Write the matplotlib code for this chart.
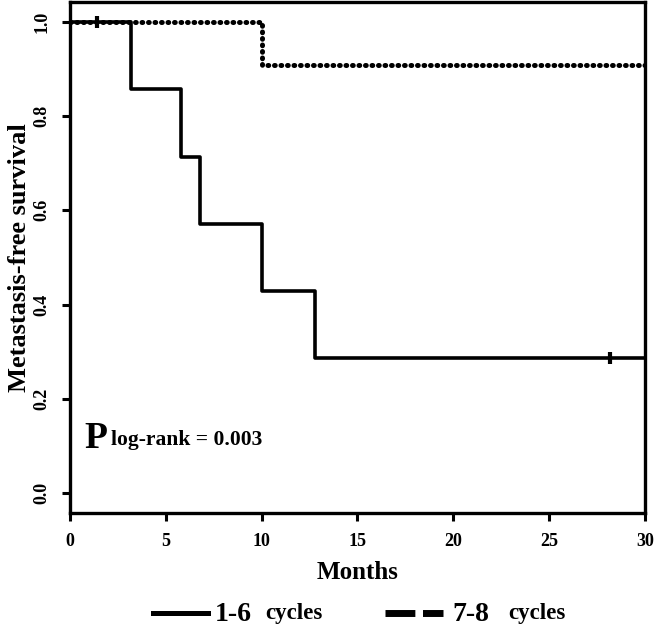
import matplotlib.pyplot as plt
from matplotlib.lines import Line2D

# Kaplan-Meier steps
t_short = [0, 3.2, 5.8, 6.8, 10.0, 12.8, 30]
s_short = [1.0, 0.857, 0.714, 0.571, 0.429, 0.286, 0.286]
cens_short_t = [1.4, 28.2]
cens_short_s = [1.0, 0.286]

t_long = [0, 10.0, 30]
s_long = [1.0, 0.909, 0.909]

xticks = [0, 5, 10, 15, 20, 25, 30]
yticks = [0.0, 0.2, 0.4, 0.6, 0.8, 1.0]

plt.rcParams['font.family'] = ['Liberation Serif', 'DejaVu Serif']
plt.rcParams['font.weight'] = 'bold'

fig = plt.figure(figsize=(6.57, 6.32), dpi=100)
ax = fig.add_axes([0.1065, 0.188, 0.875, 0.809])

ax.step(t_long, s_long, where='post', color='black', lw=3.6,
        linestyle=(0, (0.15, 1.15)), dash_capstyle='round')
ax.step(t_short, s_short, where='post', color='black', lw=2.6)
ax.plot(cens_short_t, cens_short_s, linestyle='none', marker='|',
        color='black', ms=8, mew=3)

ax.set_xlim(0, 30)
ax.set_ylim(-0.042, 1.042)
ax.set_xticks(xticks)
ax.set_yticks(yticks)
ax.set_xticklabels([str(x) for x in xticks], fontsize=13, fontweight='bold')
ax.set_yticklabels(['%.1f' % y for y in yticks], fontsize=13,
                   fontweight='bold', rotation=90, va='center')
ax.tick_params(direction='out', length=6, width=2.2)
ax.tick_params(axis='x', pad=8)
ax.tick_params(axis='y', pad=8)
for sp in ax.spines.values():
    sp.set_linewidth(2.4)

ax.set_xlabel('Months', fontsize=18, fontweight='bold', labelpad=8)
ax.set_ylabel('Metastasis-free survival', fontsize=19, fontweight='bold',
              labelpad=2)

ax.text(0.75, 0.097, 'P', fontsize=27, fontweight='bold', va='baseline')
ax.text(2.15, 0.103, 'log-rank = 0.003', fontsize=15.5, fontweight='bold',
        va='baseline')

# legend row below the axes, drawn by hand for the mixed font sizes
fig.add_artist(Line2D([0.233, 0.317], [0.030, 0.030], color='black',
                      lw=3.6, transform=fig.transFigure))
fig.add_artist(Line2D([0.586, 0.674], [0.030, 0.030], color='black',
                      lw=5, linestyle=(0, (4.3, 1.1)),
                      solid_capstyle='butt', dash_capstyle='butt',
                      transform=fig.transFigure))
fig.text(0.327, 0.017, '1-6', fontsize=20, fontweight='bold', va='baseline')
fig.text(0.403, 0.020, 'cycles', fontsize=16.5, fontweight='bold', va='baseline')
fig.text(0.689, 0.017, '7-8', fontsize=20, fontweight='bold', va='baseline')
fig.text(0.773, 0.020, 'cycles', fontsize=16.5, fontweight='bold', va='baseline')

fig.savefig('out.png', dpi=100)
